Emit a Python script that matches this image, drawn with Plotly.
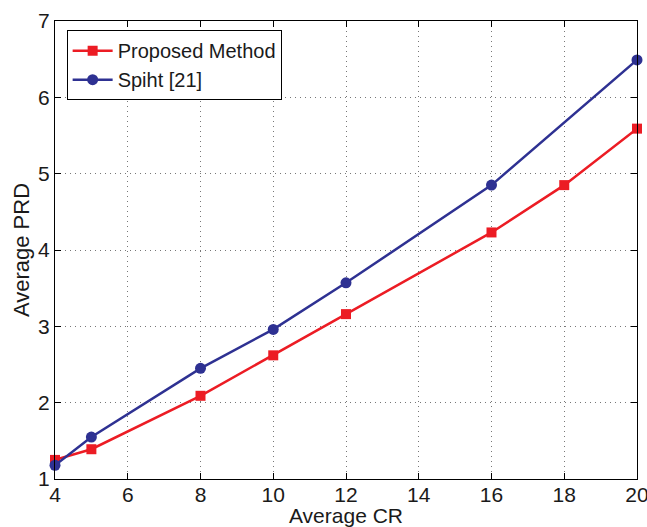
import plotly.graph_objects as go

cr = [4, 5, 8, 10, 12, 16, 18, 20]
prd_proposed = [1.25, 1.39, 2.09, 2.62, 3.16, 4.23, 4.85, 5.59]
cr_spiht = [4, 5, 8, 10, 12, 16, 20]
prd_spiht = [1.18, 1.55, 2.45, 2.96, 3.57, 4.85, 6.49]
x_ticks = [4, 6, 8, 10, 12, 14, 16, 18, 20]
y_ticks = [1, 2, 3, 4, 5, 6, 7]

RED = "#EC1C24"
BLUE = "#2E3192"
FONT = "Liberation Sans, Arial, sans-serif"
TXT = "#1a1a1a"

fig = go.Figure()
fig.add_trace(go.Scatter(
    x=cr, y=prd_proposed, mode="lines+markers", name="Proposed Method",
    line=dict(color=RED, width=2.5),
    marker=dict(symbol="square", size=10, color=RED),
    cliponaxis=False,
))
fig.add_trace(go.Scatter(
    x=cr_spiht, y=prd_spiht, mode="lines+markers", name="Spiht [21]",
    line=dict(color=BLUE, width=2.5),
    marker=dict(symbol="circle", size=11, color=BLUE),
    cliponaxis=False,
))

axis_common = dict(
    showgrid=True, gridcolor="#777777", griddash="1px,4px", gridwidth=1,
    showline=True, linecolor="black", linewidth=1.2, mirror="ticks",
    ticks="inside", ticklen=6, tickcolor="black", zeroline=False,
    tickfont=dict(family=FONT, size=21, color=TXT),
    automargin=False, ticklabeloverflow="allow",
)

fig.update_xaxes(
    range=[4, 20], tickvals=x_ticks, ticktext=[str(v) for v in x_ticks],
    title=dict(text="Average CR", font=dict(family=FONT, size=21, color=TXT), standoff=0),
    ticklabelstandoff=-3,
    **axis_common,
)
fig.update_yaxes(
    range=[1, 7], tickvals=y_ticks, ticktext=[str(v) for v in y_ticks],
    title=dict(text="Average PRD", font=dict(family=FONT, size=22, color=TXT), standoff=2),
    **axis_common,
)

fig.update_layout(
    width=647, height=527,
    margin=dict(l=55, r=10, t=21, b=48),
    paper_bgcolor="white", plot_bgcolor="white",
    showlegend=True,
    legend=dict(
        x=0.02, y=0.98, xanchor="left", yanchor="top",
        bgcolor="white", bordercolor="black", borderwidth=1,
        font=dict(family=FONT, size=20, color=TXT),
        tracegroupgap=0, itemwidth=40,
    ),
    font=dict(family=FONT),
)

fig.write_html("out.html", config={"displayModeBar": False},
               post_script="document.body.style.margin='0';")
